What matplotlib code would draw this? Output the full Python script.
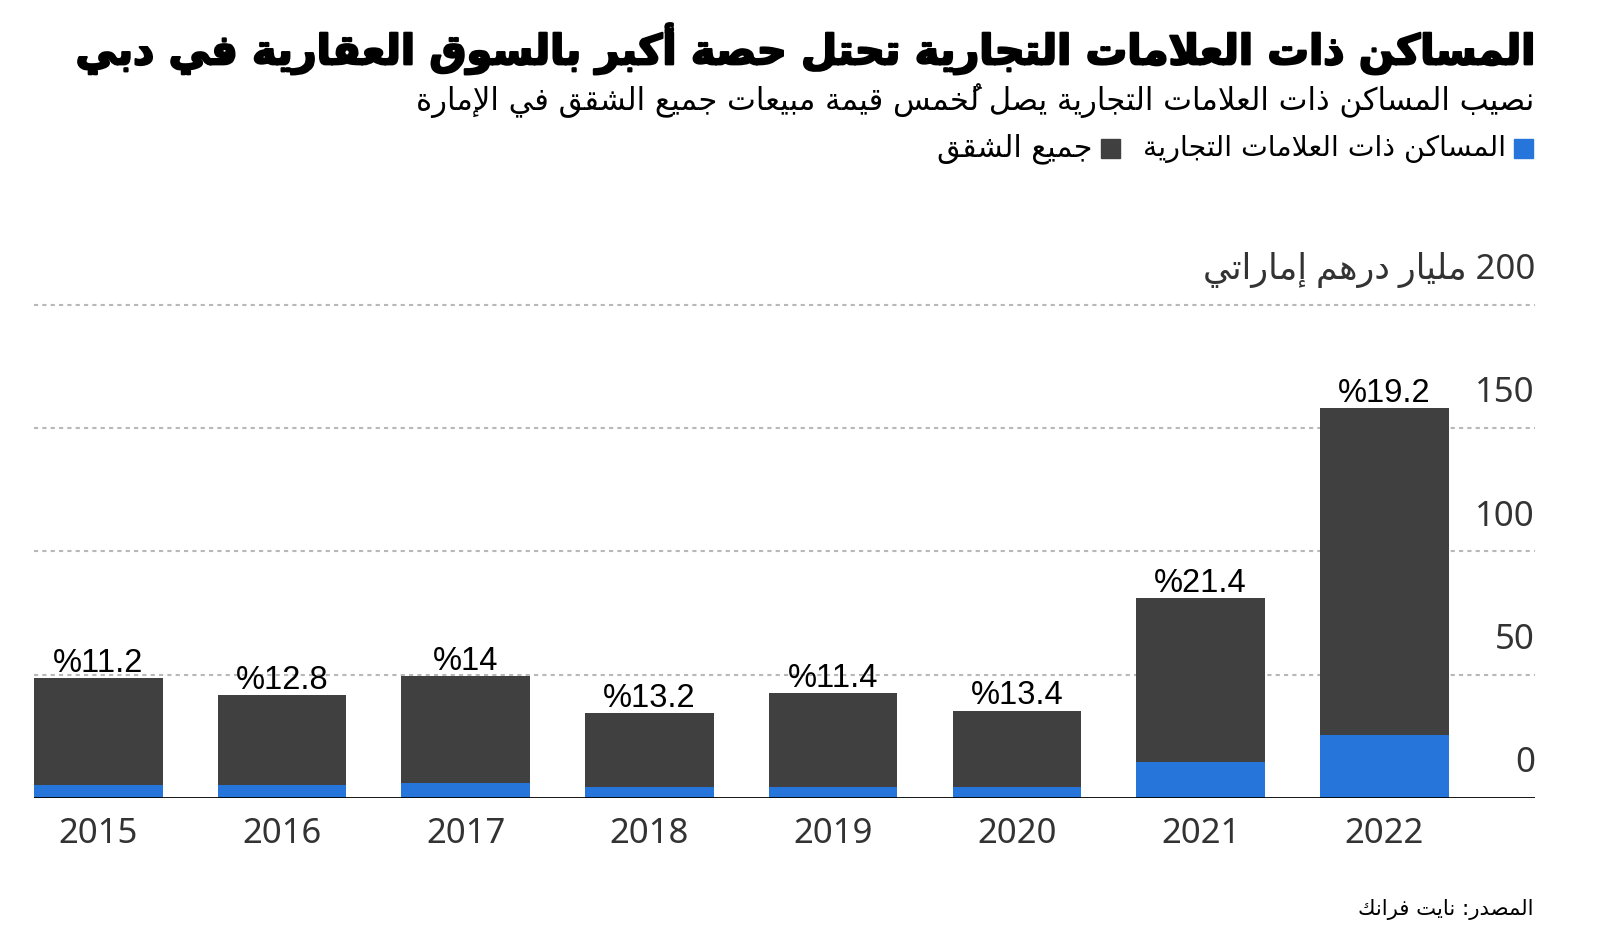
import re
import matplotlib
matplotlib.use('Agg')
import matplotlib.pyplot as plt
import matplotlib.transforms as mtransforms
import matplotlib.patheffects as pe
from matplotlib.patches import Rectangle

# data (billion AED)
years = ['2015', '2016', '2017', '2018', '2019', '2020', '2021', '2022']
total_sales = [48.6, 41.5, 49.4, 34.4, 42.4, 35.3, 80.9, 158.0]
branded_sales = [5.1, 5.1, 6.1, 4.2, 4.2, 4.2, 14.3, 25.3]
share_labels = ['%11.2', '%12.8', '%14', '%13.2', '%11.4', '%13.4', '%21.4', '%19.2']
y_ticks = [0, 50, 100, 150, 200]

title = 'المساكن ذات العلامات التجارية تحتل حصة أكبر بالسوق العقارية في دبي'
subtitle = 'نصيب المساكن ذات العلامات التجارية يصل لخُمس قيمة مبيعات جميع الشقق في الإمارة'
legend_branded = 'المساكن ذات العلامات التجارية'
legend_all = 'جميع الشقق'
unit_label = 'مليار درهم إماراتي'
source = 'المصدر: نايت فرانك'

BLUE = '#2675DB'
DARK = '#404040'


# --- minimal arabic shaping (matplotlib has no RTL / joining support) ---
letters = [('ء', 0xFE80, 'n'), ('آ', 0xFE81, 'r'), ('أ', 0xFE83, 'r'), ('ؤ', 0xFE85, 'r'),
           ('إ', 0xFE87, 'r'), ('ئ', 0xFE89, 'd'), ('ا', 0xFE8D, 'r'), ('ب', 0xFE8F, 'd'),
           ('ة', 0xFE93, 'r'), ('ت', 0xFE95, 'd'), ('ث', 0xFE99, 'd'), ('ج', 0xFE9D, 'd'),
           ('ح', 0xFEA1, 'd'), ('خ', 0xFEA5, 'd'), ('د', 0xFEA9, 'r'), ('ذ', 0xFEAB, 'r'),
           ('ر', 0xFEAD, 'r'), ('ز', 0xFEAF, 'r'), ('س', 0xFEB1, 'd'), ('ش', 0xFEB5, 'd'),
           ('ص', 0xFEB9, 'd'), ('ض', 0xFEBD, 'd'), ('ط', 0xFEC1, 'd'), ('ظ', 0xFEC5, 'd'),
           ('ع', 0xFEC9, 'd'), ('غ', 0xFECD, 'd'), ('ف', 0xFED1, 'd'), ('ق', 0xFED5, 'd'),
           ('ك', 0xFED9, 'd'), ('ل', 0xFEDD, 'd'), ('م', 0xFEE1, 'd'), ('ن', 0xFEE5, 'd'),
           ('ه', 0xFEE9, 'd'), ('و', 0xFEED, 'r'), ('ى', 0xFEEF, 'r'), ('ي', 0xFEF1, 'd')]
FORMS = {}
JOIN = {}
for ch, code, t in letters:
    JOIN[ch] = t
    if t == 'd':
        FORMS[ch] = [chr(code + k) for k in range(4)]
    elif t == 'r':
        FORMS[ch] = [chr(code), chr(code + 1), None, None]
    else:
        FORMS[ch] = [chr(code), None, None, None]
LAM_ALEF = {'آ': 0xFEF5, 'أ': 0xFEF7, 'إ': 0xFEF9, 'ا': 0xFEFB}
for a, code in LAM_ALEF.items():
    FORMS['ل' + a] = [chr(code), chr(code + 1), None, None]
    JOIN['ل' + a] = 'r'


def is_mark(c):
    return 0x064B <= ord(c) <= 0x0652


def shape(s):
    tokens = []
    for c in s:
        if is_mark(c) and tokens:
            tokens[-1][1] += c
        elif c in LAM_ALEF and tokens and tokens[-1][0] == 'ل' and not tokens[-1][1]:
            tokens[-1][0] = 'ل' + c
        else:
            tokens.append([c, ''])
    out = []
    for i, (base, marks) in enumerate(tokens):
        t = JOIN.get(base)
        if t is None:
            out.append(base + marks)
            continue
        prev_t = JOIN.get(tokens[i - 1][0]) if i > 0 else None
        next_t = JOIN.get(tokens[i + 1][0]) if i + 1 < len(tokens) else None
        p = prev_t == 'd' and t in ('d', 'r')
        n = t == 'd' and next_t in ('d', 'r')
        idx = 3 if (p and n) else 1 if p else 2 if n else 0
        out.append((FORMS[base][idx] or FORMS[base][0]) + marks)
    vis = ''.join(out[::-1])
    # put left-to-right runs back in order
    vis = re.sub(r'[0-9A-Za-z.%]+', lambda m: m.group()[::-1], vis)
    return vis


AR = ['DejaVu Sans']
NUM = ['Noto Sans', 'DejaVu Sans']

fig = plt.figure(figsize=(16, 9.44), dpi=100)
W, H = 1600, 944
ax = fig.add_axes([34 / W, 1 - 797.7 / H, (1535 - 34) / W, (797.7 - 305) / H])

x = list(range(len(years)))
rest = [t - b for t, b in zip(total_sales, branded_sales)]
ax.bar(x, branded_sales, width=0.70, color=BLUE, zorder=3)
ax.bar(x, rest, bottom=branded_sales, width=0.70, color=DARK, zorder=3)

for i, lab in enumerate(share_labels):
    ax.annotate(lab, (x[i], total_sales[i]), xytext=(0, 4.5), textcoords='offset points',
                ha='center', va='baseline', fontsize=23.5, family='Liberation Sans',
                color='black', zorder=5)

ax.set_xlim(-0.35, 7.82)
ax.set_ylim(0, 200)
for v in y_ticks[1:]:
    ax.axhline(v, color='#b8b8b8', lw=1.5, dashes=(2, 2), zorder=1, clip_on=False)
ax.axhline(0, color='black', lw=2, zorder=4)

ax.set_yticks([])
ax.set_xticks(x)
ax.set_xticklabels(years, family=NUM, fontsize=25, color='#333333')
ax.tick_params(axis='x', length=0, pad=14)
for s in ax.spines.values():
    s.set_visible(False)

trans = mtransforms.blended_transform_factory(ax.transAxes, ax.transData)
for v in y_ticks:
    lab = str(v)
    if v == y_ticks[-1]:
        lab = shape(lab + ' ' + unit_label)
    ax.annotate(lab, (1, v), xycoords=trans, xytext=(0, 25), textcoords='offset points',
                ha='right', va='center', fontsize=25, family=NUM, color='#333333')

# header
t_title = fig.text(1534 / W, 1 - 49 / H, shape(title), ha='right', va='center',
                   fontsize=34, fontweight='bold', family=AR, color='black',
                   path_effects=[pe.withStroke(linewidth=1.6, foreground='black')])
t_sub = fig.text(1534 / W, 1 - 101 / H, shape(subtitle), ha='right', va='center',
                 fontsize=22, family=AR, color='black')

# legend, squares sit to the right of their labels
leg_y = 1 - 149 / H
fig.patches.append(Rectangle((1514 / W, leg_y - 9 / H), 19 / W, 19 / H, color=BLUE,
                             transform=fig.transFigure, figure=fig))
t_l1 = fig.text(1506 / W, leg_y, shape(legend_branded), ha='right', va='center',
                fontsize=17, family=AR, color='black')
fig.patches.append(Rectangle((1101 / W, leg_y - 9 / H), 19 / W, 19 / H, color=DARK,
                             transform=fig.transFigure, figure=fig))
t_l2 = fig.text(1092 / W, leg_y, shape(legend_all), ha='right', va='center',
                fontsize=17, family=AR, color='black')

t_src = fig.text(1534 / W, 1 - 909 / H, shape(source), ha='right', va='center',
                 fontsize=15, family=AR, color='black')

# scale the arabic texts to the widths they take in the original
r = fig.canvas.get_renderer()
for t, target in [(t_title, 1460), (t_sub, 1116), (t_l1, 363), (t_l2, 155), (t_src, 177)]:
    w = t.get_window_extent(r).width
    t.set_fontsize(t.get_fontsize() * target / w)

fig.savefig('out.png', dpi=100, facecolor='white')
